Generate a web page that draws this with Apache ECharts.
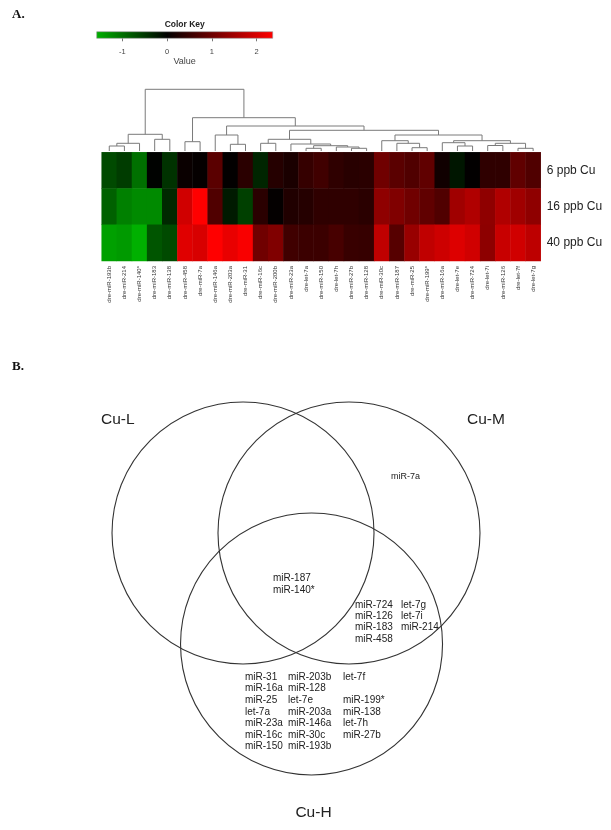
<!DOCTYPE html>
<html><head><meta charset="utf-8">
<script src="https://cdn.jsdelivr.net/npm/echarts@6/dist/echarts.min.js"></script>
<style>html,body{margin:0;padding:0;background:#fff}#c{width:611px;height:830px}</style>
</head><body><div id="c"></div>
<script>
// ---------- DATA ----------
const columns = ['dre-miR-193b','dre-miR-214','dre-miR-140*','dre-miR-183','dre-miR-138','dre-miR-458','dre-miR-7a','dre-miR-146a','dre-miR-203a','dre-miR-31','dre-miR-16c','dre-miR-200b','dre-miR-23a','dre-let-7a','dre-miR-150','dre-let-7h','dre-miR-27b','dre-miR-128','dre-miR-30c','dre-miR-187','dre-miR-25','dre-miR-199*','dre-miR-16a','dre-let-7e','dre-miR-724','dre-let-7i','dre-miR-126','dre-let-7f','dre-let-7g'];
const rows = ['6 ppb Cu','16 ppb Cu','40 ppb Cu'];
const row6  = [-0.66,-0.54,-1.00,-0.02,-0.45,0.09,0.05,0.83,0.03,0.39,-0.33,0.34,0.24,0.49,0.59,0.44,0.37,0.39,1.04,0.83,0.74,0.89,0.15,-0.19,0.02,0.44,0.44,0.89,0.74];
const row16 = [-0.86,-1.14,-1.23,-1.23,-0.36,1.92,2.36,0.74,-0.23,-0.57,0.39,0.04,0.30,0.34,0.44,0.44,0.44,0.39,1.33,1.18,1.04,0.89,0.74,1.48,1.63,1.33,1.63,1.48,1.33];
const row40 = [-1.43,-1.37,-1.57,-0.76,-0.66,2.07,2.00,2.36,2.15,2.30,1.04,1.18,0.59,0.54,0.54,0.66,0.52,0.50,1.78,0.80,1.40,1.78,1.90,2.05,1.92,1.30,1.85,1.92,1.75];
const keyMin = -1.57, keyMax = 2.36;
const keyTicks = [-1, 0, 1, 2];
// column dendrogram merges: [childA, childB, height]; negative = leaf -(col+1), positive = merge number (1-based)
const merges = [
  [-1,-2,5],[1,-3,7.7],[-4,-5,11.7],[2,3,16.7],
  [-6,-7,9.3],[-9,-10,6.7],[-8,6,16],
  [-11,-12,7.7],[-14,-15,2.7],[-17,-18,2.7],[-16,10,4],[9,11,5.3],[-13,12,7],[8,13,11.7],
  [-21,-22,3.3],[-20,15,7.7],[-19,16,10.3],
  [-24,-25,5],[-23,18,8.3],[-26,-27,5.5],[-28,-29,2.7],[20,21,7.7],[19,22,10.3],
  [17,23,16],[14,24,20.7],[7,25,25],[5,26,33.3],[4,27,61.7]
];
const vennSets = ['Cu-L','Cu-M','Cu-H'];
const onlyM = ['miR-7a'];
const allThree = ['miR-187','miR-140*'];
const mhCol1 = ['miR-724','miR-126','miR-183','miR-458'];
const mhCol2 = ['let-7g','let-7i','miR-214'];
const hCol1 = ['miR-31','miR-16a','miR-25','let-7a','miR-23a','miR-16c','miR-150'];
const hCol2 = ['miR-203b','miR-128','let-7e','miR-203a','miR-146a','miR-30c','miR-193b'];
const hCol3 = ['let-7f','','miR-199*','miR-138','let-7h','miR-27b',''];

// ---------- LAYOUT ----------
const U = 131; // px per venn unit (circle radius = 1)
const vennGrid = {left:0, top:360, width:611, height:470};
const vx = vennGrid.width/2/U, vy = vennGrid.height/2/U;
const circleLayout = [[-0.477,0.473],[0.332,0.473],[0.046,-0.374]];
const setLabelLayout = [[-1.561,1.336,'left'],[1.233,1.336,'left'],[0.061,-1.664,'center']];
const FONT = 'Liberation Sans, Arial, sans-serif';

function keyColor(v){
  if (v < 0){ const t = Math.min(1, v/keyMin); return 'rgb(0,'+Math.round(176*t)+',0)'; }
  const t = Math.min(1, v/keyMax); return 'rgb('+Math.round(255*t)+',0,0)';
}
const N = 120, stops = [];
for (let i=0;i<N;i++){ stops.push(keyColor(keyMin + (keyMax-keyMin)*i/(N-1))); }

// heatmap data
const heatData = [];
[row6,row16,row40].forEach((arr,r)=>arr.forEach((v,c)=>heatData.push([c,r,v])));

// dendrogram geometry
const nodeX = [], nodeH = [];
function childPos(id){ return id<0 ? [(-id)-1, 0] : [nodeX[id-1], nodeH[id-1]]; }
const dendroData = merges.map(m=>{
  const a = childPos(m[0]), b = childPos(m[1]);
  const x = (a[0]+b[0])/2; nodeX.push(x); nodeH.push(m[2]);
  return [x, m[2], a[0], a[1], b[0], b[1]];
});
const rootH = merges[merges.length-1][2];

// venn texts
const vennTexts = [];
function addCol(list, ux, uy, dy, fs){ list.forEach((t,i)=>{ if(t) vennTexts.push({t, x:ux, y:uy, off:i*dy, fs, align:'left'}); }); }
vennSets.forEach((s,i)=>vennTexts.push({t:s, x:setLabelLayout[i][0], y:setLabelLayout[i][1], off:0, fs:15.5, align:setLabelLayout[i][2]}));
addCol(onlyM, 0.653, 0.901, 0, 9);
addCol(allThree, -0.248, 0.130, 12.5, 10);
addCol(mhCol1, 0.378, -0.076, 11.3, 10);
addCol(mhCol2, 0.729, -0.076, 11.3, 10);
addCol(hCol1, -0.462, -0.626, 11.6, 10);
addCol(hCol2, -0.134, -0.626, 11.6, 10);
addCol(hCol3, 0.286, -0.626, 11.6, 10);

const chart = echarts.init(document.getElementById('c'), null, {renderer:'canvas'});
chart.setOption({
  animation:false,
  backgroundColor:'#fff',
  textStyle:{fontFamily:FONT},
  grid:[
    {left:96.7, top:31.7, width:176, height:6.6},
    {left:101.7, top:89.3, width:439, height:61.7},
    {left:101.7, top:152.3, width:439, height:108.7},
    vennGrid
  ],
  xAxis:[
    {gridIndex:0, type:'value', min:keyMin, max:keyMax, axisLine:{show:false}, splitLine:{show:false},
     axisTick:{show:true, customValues:keyTicks, length:3, lineStyle:{color:'#777'}},
     axisLabel:{customValues:keyTicks, fontSize:7.5, color:'#444', margin:10},
     name:'Value', nameLocation:'middle', nameGap:17, nameTextStyle:{fontSize:9, color:'#444'}},
    {gridIndex:1, type:'value', min:-0.5, max:columns.length-0.5, show:false},
    {gridIndex:2, type:'category', data:columns, axisLine:{show:false}, axisTick:{show:false}, splitLine:{show:false},
     axisLabel:{rotate:90, interval:0, fontSize:6, color:'#333', margin:5}},
    {gridIndex:3, type:'value', min:-vx, max:vx, show:false}
  ],
  yAxis:[
    {gridIndex:0, type:'value', min:0, max:1, show:false},
    {gridIndex:1, type:'value', min:0, max:rootH, show:false},
    {gridIndex:2, type:'category', data:rows, inverse:true, position:'right', axisLine:{show:false}, axisTick:{show:false}, splitLine:{show:false},
     axisLabel:{fontSize:12, color:'#222', margin:6}},
    {gridIndex:3, type:'value', min:-vy, max:vy, show:false}
  ],
  visualMap:{show:false, type:'continuous', min:keyMin, max:keyMax, dimension:2, seriesIndex:2, inRange:{color:stops}},
  graphic:[
    {type:'text', left:12, top:8, style:{text:'A.', font:'bold 13px "Liberation Serif", serif', fill:'#111'}},
    {type:'text', left:12, top:360, style:{text:'B.', font:'bold 13px "Liberation Serif", serif', fill:'#111'}},
    {type:'text', x:184.7, y:24.5, style:{text:'Color Key', font:'bold 8.5px '+FONT, fill:'#222', align:'center', verticalAlign:'middle'}}
  ],
  series:[
    {type:'custom', xAxisIndex:0, yAxisIndex:0, data:[[keyMin,keyMax]], encode:{x:[0,1]}, silent:true,
     renderItem:function(p, api){
       const a = api.coord([api.value(0),1]), b = api.coord([api.value(1),0]);
       const z = (0-keyMin)/(keyMax-keyMin);
       return {type:'rect', shape:{x:a[0], y:a[1], width:b[0]-a[0], height:b[1]-a[1]},
         style:{fill:new echarts.graphic.LinearGradient(0,0,1,0,[{offset:0,color:keyColor(keyMin)},{offset:z,color:'#000'},{offset:1,color:keyColor(keyMax)}]), stroke:'#999', lineWidth:0.6}};
     }},
    {type:'custom', xAxisIndex:1, yAxisIndex:1, data:dendroData, encode:{x:[0,2,4], y:[1,3,5]}, silent:true, clip:false,
     renderItem:function(p, api){
       const x=api.value(0), h=api.value(1), xa=api.value(2), ha=api.value(3), xb=api.value(4), hb=api.value(5);
       return {type:'polyline', shape:{points:[api.coord([xa,ha]),api.coord([xa,h]),api.coord([xb,h]),api.coord([xb,hb])]},
         style:{stroke:'#7a7a7a', lineWidth:1, fill:null}};
     }},
    {type:'heatmap', xAxisIndex:2, yAxisIndex:2, data:heatData, itemStyle:{borderWidth:0}, emphasis:{disabled:true}},
    {type:'custom', xAxisIndex:3, yAxisIndex:3, data:circleLayout.map(c=>[c[0],c[1],1]), silent:true, clip:false,
     renderItem:function(p, api){
       const c = api.coord([api.value(0), api.value(1)]);
       const r = api.size([api.value(2), api.value(2)])[0];
       return {type:'circle', shape:{cx:c[0], cy:c[1], r:r}, style:{fill:null, stroke:'#333', lineWidth:1.1}};
     }},
    {type:'custom', xAxisIndex:3, yAxisIndex:3, data:vennTexts.map(t=>[t.x,t.y]), silent:true, clip:false,
     renderItem:function(p, api){
       const t = vennTexts[p.dataIndex];
       const c = api.coord([api.value(0), api.value(1)]);
       return {type:'text', x:c[0], y:c[1]+t.off, style:{text:t.t, fontSize:t.fs, fontFamily:FONT, fill:'#222', align:t.align, verticalAlign:'middle'}};
     }}
  ]
});
</script></body></html>
